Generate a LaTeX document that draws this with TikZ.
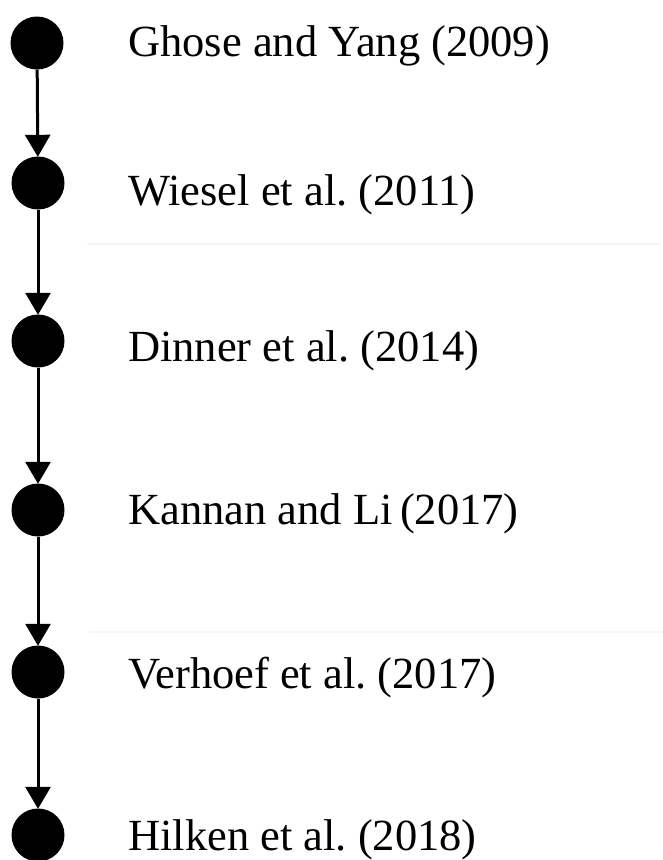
\documentclass[tikz,border=0pt]{standalone}
\usepackage{fontspec}
\setmainfont{Liberation Serif}
\usetikzlibrary{arrows.meta}
\frenchspacing
\begin{document}
\begin{tikzpicture}[x=1pt,y=-1pt,
  dot/.style={circle,fill=black,draw=none,minimum size=53pt,inner sep=0pt},
  entry/.style={anchor=base west,inner sep=0pt,font=\fontsize{44.5}{48}\selectfont},
  link/.style={line width=3pt,-{Triangle[width=25pt,length=22pt]},shorten >=-0.5pt},
  divider/.style={line width=2.5pt,color=black!4,line cap=round}]
\useasboundingbox (0,0) rectangle (663,860);
% timeline dots
\node[dot] (c1) at (37,43) {};
\node[dot] (c2) at (38,183) {};
\node[dot] (c3) at (38,341) {};
\node[dot] (c4) at (38,510) {};
\node[dot] (c5) at (38,672) {};
\node[dot] (c6) at (38,835) {};
% labels
\node[entry] (t1) at (128,56.7) {Ghose and Yang (2009)};
\node[entry] (t2) at (128,205) {Wiesel et al. (2011)};
\node[entry] (t3) at (128,361.7) {Dinner et al. (2014)};
\node[entry] (t4) at (128,524) {Kannan and Li\,(2017)};
\node[entry] (t5) at (128,688) {Verhoef et al. (2017)};
\node[entry] (t6) at (128,850) {Hilken et al. (2018)};
% faint separators
\coordinate (d1a) at (88,244); \coordinate (d1b) at (660,244);
\coordinate (d2a) at (90,632); \coordinate (d2b) at (663,632);
\draw[divider] (d1a) -- (d1b);
\draw[divider] (d2a) -- (d2b);
% arrows
\foreach \a/\b in {c1/c2,c2/c3,c3/c4,c4/c5,c5/c6}
  \draw[link] (\a) -- (\b);
\end{tikzpicture}
\end{document}
